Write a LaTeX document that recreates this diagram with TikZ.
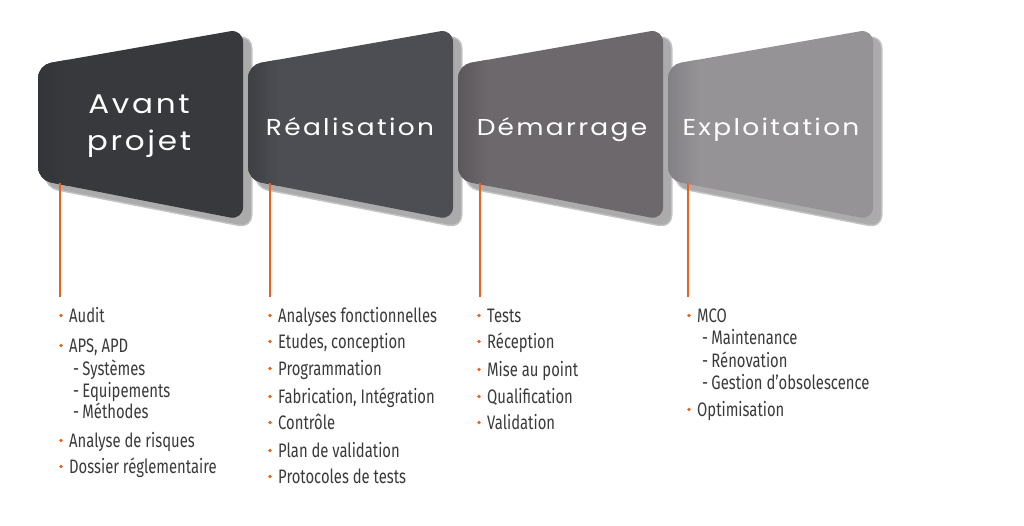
\documentclass[tikz,border=0pt]{standalone}
\usepackage{fontspec}
\newfontfamily\headfont[LetterSpace=10,FakeStretch=1.15]{Poppins}
\newfontfamily\listfont[FakeStretch=0.76]{Fira Sans}
\definecolor{stA}{HTML}{37393D}
\definecolor{stAe}{HTML}{33353A}
\definecolor{stB}{HTML}{4D4E53}
\definecolor{stBe}{HTML}{3E3F43}
\definecolor{stC}{HTML}{6C686B}
\definecolor{stCe}{HTML}{5B575A}
\definecolor{stD}{HTML}{959396}
\definecolor{stDe}{HTML}{828084}
\definecolor{shadowgray}{HTML}{ABABAB}
\definecolor{orangeline}{HTML}{E8641E}
\definecolor{listgray}{HTML}{3A3A3C}
\newcommand\stageoutline[1]{(#1,120) -- (#1,65) -- ({#1+205},29) -- ({#1+205},220) -- (#1,180) -- cycle}
\newcommand\stagebox[3]{%
  \draw[shadowgray!70, line width=3pt, rounded corners=12pt, shift={(8,7)}] \stageoutline{#1};
  \fill[shadowgray, rounded corners=12pt, shift={(8,7)}] \stageoutline{#1};
  \begin{scope}
    \clip[rounded corners=13pt] \stageoutline{#1};
    \fill[#2] (#1,0) rectangle ({#1+215},240);
    \shade[left color=#3, right color=#2] (#1,0) rectangle ({#1+30},240);
  \end{scope}}
\newcommand\bitem[4]{%
  \node[bul] (#1dot) at ({#2-8},{#3-6.5}) {};
  \node[itemtxt] (#1) at (#2,#3) {#4};}
\newcommand\sitem[4]{\node[itemtxt] (#1) at (#2,#3) {-\,#4};}
\begin{document}
\begin{tikzpicture}[x=1pt,y=-1pt,
  itemtxt/.style={anchor=base west, inner sep=0pt, text=listgray,
    font=\listfont\fontsize{19.5}{19.5}\selectfont},
  headtxt/.style={anchor=base, inner sep=0pt, text=white,
    font=\headfont\fontsize{23}{23}\selectfont},
  bigheadtxt/.style={headtxt, font=\headfont\fontsize{27}{27}\selectfont},
  bul/.style={fill=orangeline, circle, inner sep=0pt, minimum size=3.8pt},
  lead/.style={draw=orangeline, line width=1.7pt}]
\useasboundingbox (0,0) rectangle (1024,525);

\stagebox{38}{stA}{stAe}
\stagebox{248}{stB}{stBe}
\stagebox{458}{stC}{stCe}
\stagebox{668}{stD}{stDe}

\node[bigheadtxt] (h1a) at (139,113) {Avant};
\node[bigheadtxt] (h1b) at (139,150) {projet};
\node[headtxt] (h2) at (350,135) {Réalisation};
\node[headtxt] (h3) at (562,135) {Démarrage};
\node[headtxt] (h4) at (771,135) {Exploitation};

\coordinate (l1a) at (60,183);  \coordinate (l1b) at (60,297);
\coordinate (l2a) at (270,183); \coordinate (l2b) at (270,297);
\coordinate (l3a) at (480,183); \coordinate (l3b) at (480,297);
\coordinate (l4a) at (688,183); \coordinate (l4b) at (688,297);
\draw[lead] (l1a) -- (l1b);
\draw[lead] (l2a) -- (l2b);
\draw[lead] (l3a) -- (l3b);
\draw[lead] (l4a) -- (l4b);

% column 1
\bitem{a1}{69}{322}{Audit}
\bitem{a2}{69}{352}{APS, APD}
\sitem{a3}{73}{375}{Systèmes}
\sitem{a4}{73}{397}{Equipements}
\sitem{a5}{73}{418}{Méthodes}
\bitem{a6}{69}{447}{Analyse de risques}
\bitem{a7}{69}{473}{Dossier réglementaire}

% column 2
\bitem{b1}{278}{322}{Analyses fonctionnelles}
\bitem{b2}{278}{348}{Etudes, conception}
\bitem{b3}{278}{375}{Programmation}
\bitem{b4}{278}{403}{Fabrication, Intégration}
\bitem{b5}{278}{429}{Contrôle}
\bitem{b6}{278}{457}{Plan de validation}
\bitem{b7}{278}{483}{Protocoles de tests}

% column 3
\bitem{c1}{487}{322}{Tests}
\bitem{c2}{487}{348}{Réception}
\bitem{c3}{487}{376}{Mise au point}
\bitem{c4}{487}{403}{Qualification}
\bitem{c5}{487}{429}{Validation}

% column 4
\bitem{d1}{697}{322}{MCO}
\sitem{d2}{702}{344}{Maintenance}
\sitem{d3}{702}{367}{Rénovation}
\sitem{d4}{702}{389}{Gestion d’obsolescence}
\bitem{d5}{697}{416}{Optimisation}
\end{tikzpicture}
\end{document}
